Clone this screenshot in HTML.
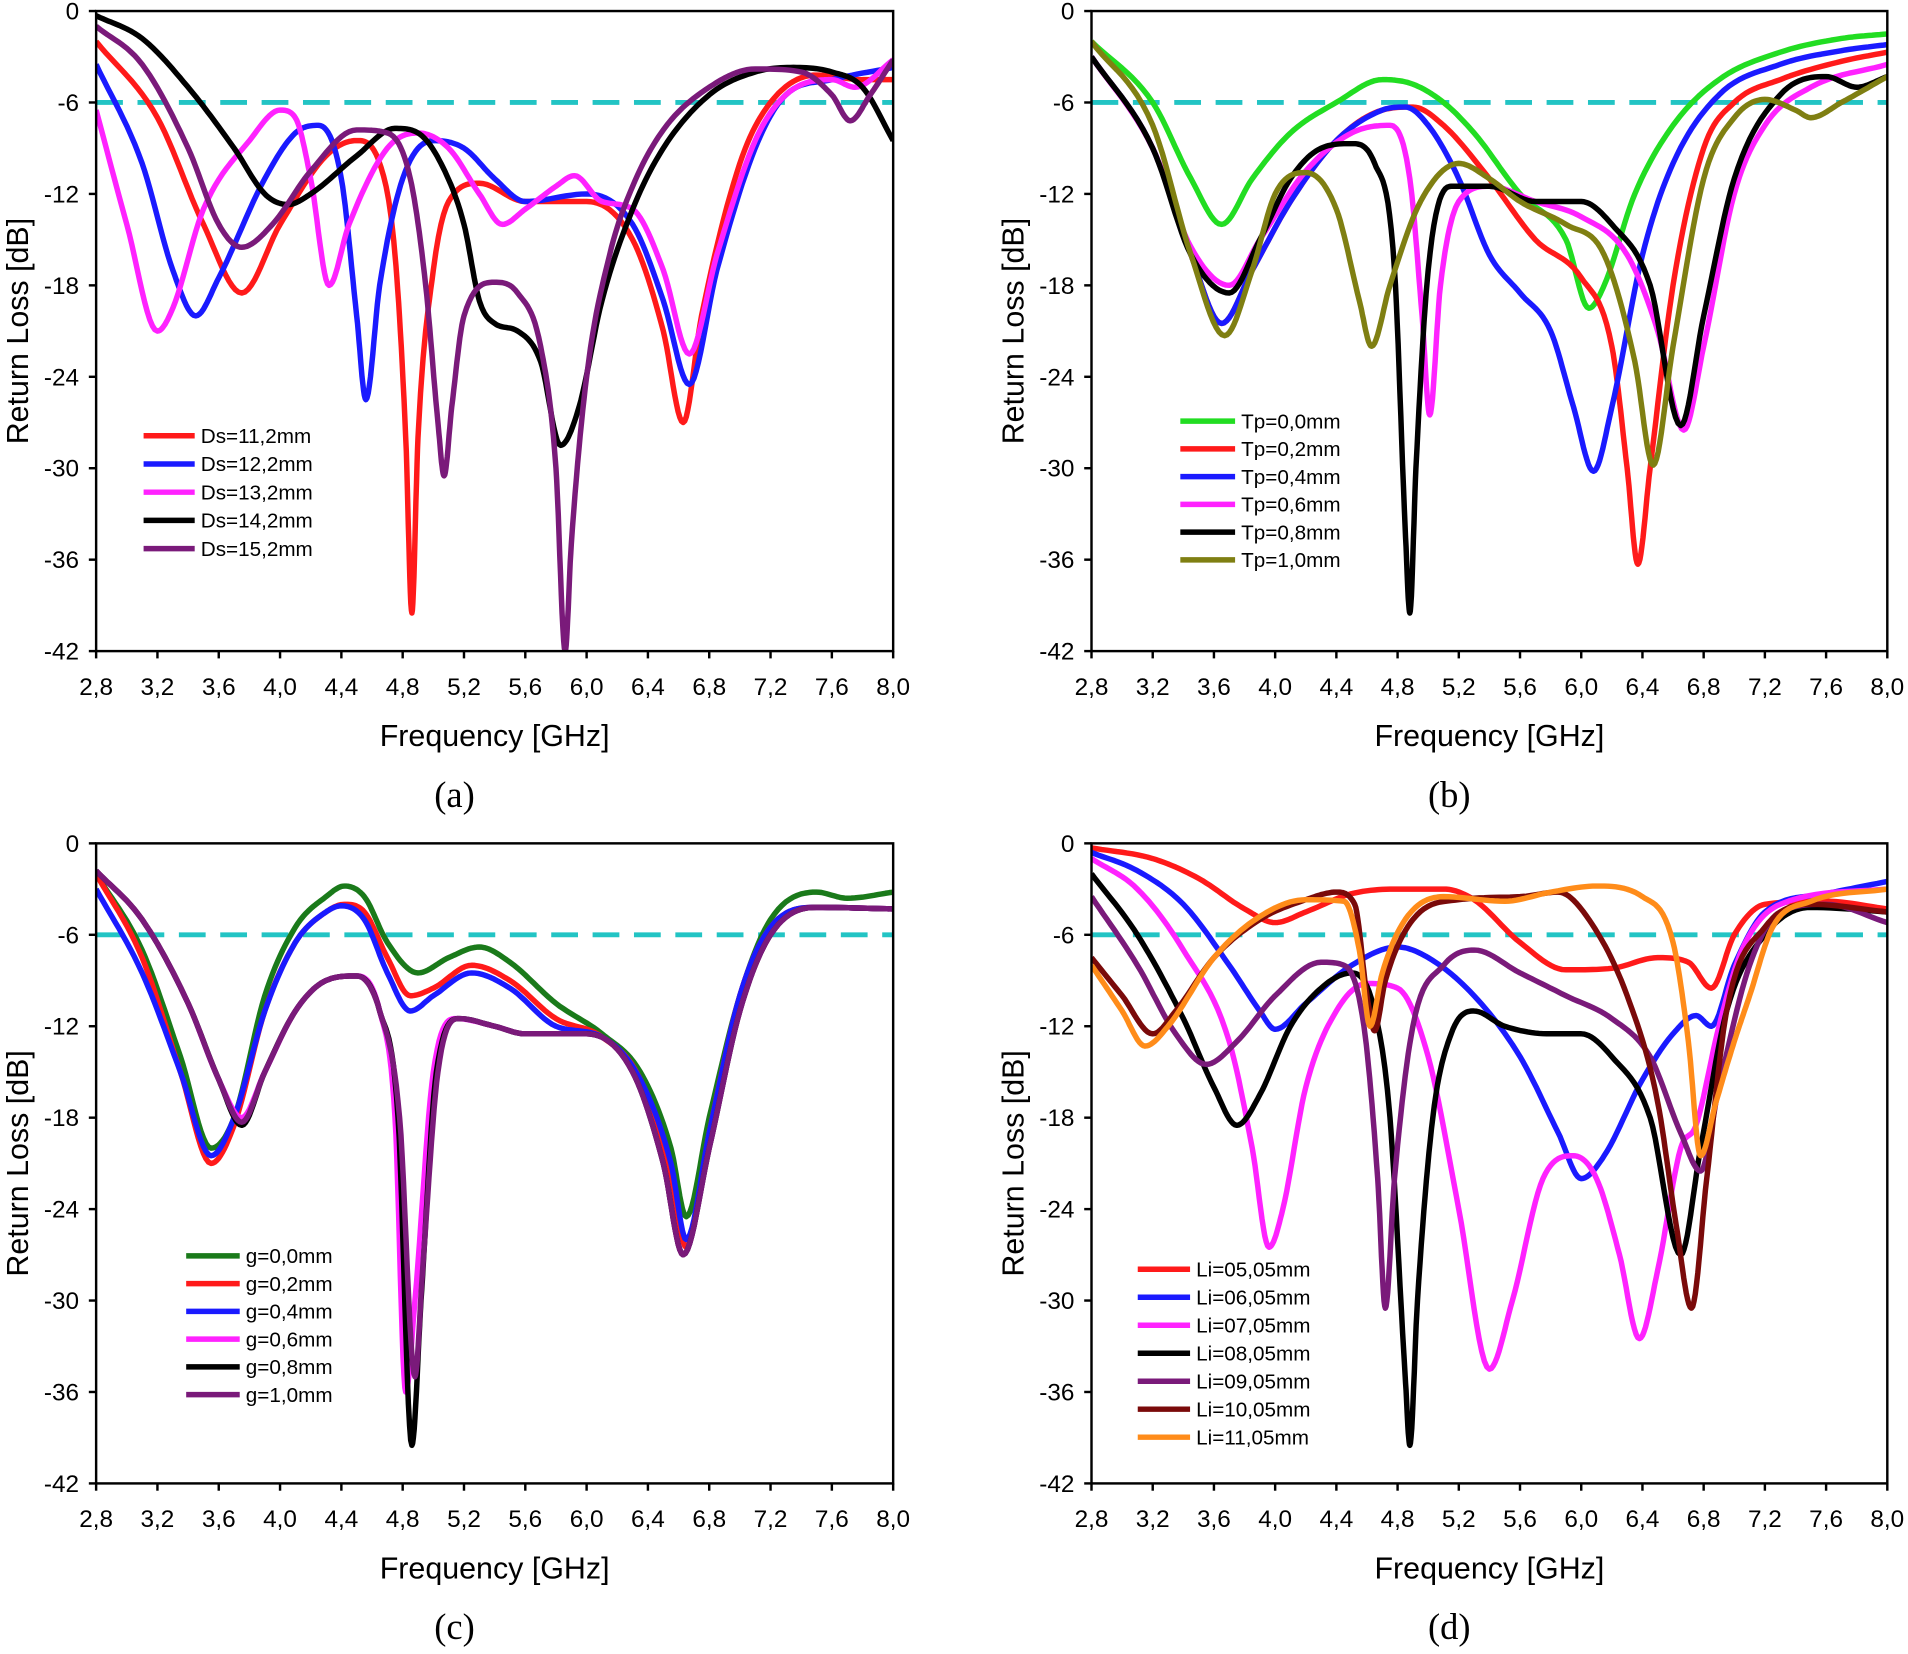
<!DOCTYPE html>
<html><head><meta charset="utf-8"><style>
html,body{margin:0;padding:0;background:#fff}
svg text{font-family:"Liberation Sans",Arial,sans-serif}
</style></head><body>
<svg id="fig" width="1908" height="1649" viewBox="0 0 1568 1355" xmlns="http://www.w3.org/2000/svg"></svg>
<script>
const xTicks=["2,8","3,2","3,6","4,0","4,4","4,8","5,2","5,6","6,0","6,4","6,8","7,2","7,6","8,0"];
const yTicks=["0","-6","-12","-18","-24","-30","-36","-42"];
// Panel (a)
const aNames=["Ds=11,2mm","Ds=12,2mm","Ds=13,2mm","Ds=14,2mm","Ds=15,2mm"];
const aColors=["#ff1a1a","#1a1aff","#ff22ff","#000000","#7a1a7a"];
const aDs11=[[2.8,-2],[3.2,-7],[3.5,-14],[3.75,-18.5],[4.0,-14],[4.3,-9.5],[4.5,-8.5],[4.65,-10],[4.75,-16],[4.82,-28],[4.86,-39.5],[4.9,-28],[5.0,-17],[5.1,-12.5],[5.3,-11.3],[5.6,-12.5],[6.0,-12.5],[6.3,-15],[6.5,-21],[6.63,-27],[6.75,-20],[7.0,-10],[7.2,-6],[7.5,-4.2],[7.8,-4.5],[8.0,-4.5]];
const aDs12=[[2.8,-3.5],[3.1,-10],[3.3,-17],[3.45,-20],[3.6,-17.5],[3.9,-11],[4.1,-8],[4.25,-7.5],[4.4,-11],[4.5,-20],[4.56,-25.5],[4.65,-18],[4.8,-11],[5.0,-8.5],[5.2,-9],[5.4,-11],[5.6,-12.5],[6.0,-12],[6.3,-14],[6.5,-19],[6.67,-24.5],[6.85,-17],[7.1,-9],[7.3,-5.5],[7.6,-4.5],[8.0,-3.7]];
const aDs13=[[2.8,-6.5],[3.0,-14],[3.2,-21],[3.3,-19.5],[3.5,-13],[3.8,-8.5],[4.0,-6.5],[4.1,-7],[4.2,-11],[4.32,-18],[4.45,-14],[4.7,-9],[4.9,-8],[5.1,-9],[5.3,-12],[5.45,-14],[5.6,-13],[5.8,-11.5],[5.92,-10.8],[6.1,-12.5],[6.3,-13],[6.5,-17],[6.67,-22.5],[6.85,-16],[7.1,-8.5],[7.3,-5.5],[7.6,-4.5],[7.75,-5],[8.0,-3.2]];
const aDs14=[[2.8,-0.3],[3.1,-1.8],[3.4,-5],[3.7,-9],[3.9,-12],[4.05,-12.7],[4.2,-12],[4.5,-9.5],[4.75,-7.7],[4.9,-8],[5.05,-10],[5.2,-14],[5.3,-19],[5.4,-20.5],[5.55,-21],[5.7,-23],[5.83,-28.5],[5.95,-26],[6.1,-19],[6.3,-13],[6.5,-9],[6.8,-5.5],[7.1,-4],[7.35,-3.7],[7.6,-4],[7.8,-5],[8.0,-8.5]];
const aDs15=[[2.8,-1],[3.1,-3.5],[3.4,-9],[3.6,-14],[3.75,-15.5],[3.95,-14],[4.2,-10.5],[4.5,-7.8],[4.7,-8],[4.85,-11],[4.95,-18],[5.03,-27],[5.07,-30.5],[5.12,-26],[5.2,-20],[5.4,-17.8],[5.55,-18.5],[5.7,-22],[5.8,-30],[5.86,-42],[5.9,-35],[6.0,-24],[6.15,-16],[6.3,-11.5],[6.5,-7.8],[6.8,-5],[7.1,-3.8],[7.4,-4],[7.6,-5.5],[7.72,-7.2],[7.85,-5.5],[8.0,-3.2]];
// Panel (b)
const bNames=["Tp=0,0mm","Tp=0,2mm","Tp=0,4mm","Tp=0,6mm","Tp=0,8mm","Tp=1,0mm"];
const bColors=["#22dd22","#ff1a1a","#1a1aff","#ff22ff","#000000","#7f7f12"];
const bTp0=[[2.8,-2],[3.2,-6],[3.45,-11],[3.65,-14],[3.85,-11],[4.1,-8],[4.4,-6],[4.7,-4.5],[4.9,-4.8],[5.1,-6],[5.3,-8],[5.6,-12],[5.9,-15],[6.05,-19.5],[6.15,-18],[6.35,-12],[6.6,-7.5],[6.9,-4.5],[7.3,-2.7],[7.7,-1.8],[8.0,-1.5]];
const bTp2=[[2.8,-3],[3.2,-9],[3.45,-16],[3.65,-20.5],[3.85,-17],[4.1,-12.5],[4.4,-8.5],[4.7,-6.5],[4.9,-6.3],[5.1,-7.5],[5.4,-11],[5.7,-15],[6.0,-17.5],[6.2,-22],[6.3,-30],[6.37,-36.3],[6.45,-30],[6.6,-18],[6.8,-9],[7.0,-6],[7.3,-4.5],[7.7,-3.3],[8.0,-2.7]];
const bTp4=[[2.8,-3],[3.2,-9],[3.45,-16],[3.65,-20.5],[3.85,-17],[4.1,-12.5],[4.4,-8.5],[4.7,-6.5],[4.85,-6.3],[5.0,-7.5],[5.2,-11],[5.4,-16],[5.6,-18.5],[5.8,-21],[5.95,-26],[6.08,-30.2],[6.2,-26],[6.4,-16],[6.6,-10],[6.9,-5.5],[7.3,-3.5],[7.7,-2.6],[8.0,-2.2]];
const bTp6=[[2.8,-3],[3.2,-9],[3.45,-15.5],[3.7,-18],[3.9,-15],[4.2,-10.5],[4.5,-8],[4.75,-7.5],[4.88,-11],[4.96,-20],[5.01,-26.5],[5.08,-18],[5.2,-12.5],[5.4,-11.5],[5.7,-12.5],[6.0,-13.5],[6.3,-16],[6.5,-21],[6.67,-27.5],[6.8,-22],[7.0,-12],[7.2,-7.5],[7.5,-5],[8.0,-3.5]];
const bTp8=[[2.8,-3],[3.2,-9],[3.45,-16],[3.7,-18.5],[3.9,-15],[4.1,-11],[4.3,-9],[4.5,-8.7],[4.65,-10],[4.78,-17],[4.85,-34],[4.88,-39.5],[4.92,-30],[5.0,-17],[5.15,-11.5],[5.4,-11.5],[5.7,-12.5],[6.0,-12.5],[6.2,-14],[6.45,-18],[6.65,-27.2],[6.8,-20],[7.0,-11],[7.3,-5.5],[7.6,-4.3],[7.8,-5],[8.0,-4.3]];
const bTp10=[[2.8,-2],[3.2,-7.5],[3.45,-16],[3.67,-21.3],[3.85,-17],[4.0,-12],[4.2,-10.6],[4.4,-13],[4.55,-19],[4.63,-22],[4.75,-18],[4.95,-12.5],[5.2,-10],[5.4,-11],[5.6,-12.5],[5.9,-14],[6.15,-16],[6.35,-23],[6.47,-29.8],[6.6,-22],[6.8,-11],[7.0,-7],[7.2,-5.8],[7.4,-6.5],[7.5,-7],[7.7,-6],[8.0,-4.3]];
// Panel (c)
const cNames=["g=0,0mm","g=0,2mm","g=0,4mm","g=0,6mm","g=0,8mm","g=1,0mm"];
const cColors=["#1a7a1a","#ff1a1a","#1a1aff","#ff22ff","#000000","#7a1a7a"];
const cG0=[[2.8,-2],[3.1,-7],[3.35,-14],[3.55,-20],[3.7,-18],[3.9,-10],[4.1,-5.5],[4.3,-3.5],[4.42,-2.8],[4.55,-3.5],[4.7,-6.5],[4.9,-8.5],[5.1,-7.5],[5.3,-6.8],[5.5,-7.8],[5.8,-10.5],[6.1,-12.5],[6.35,-15],[6.55,-20],[6.65,-24.5],[6.8,-18],[7.0,-10],[7.2,-5],[7.5,-3.2],[7.7,-3.6],[8.0,-3.2]];
const cG2=[[2.8,-2],[3.1,-7.5],[3.35,-15],[3.55,-21],[3.7,-18.5],[3.9,-11],[4.1,-6.5],[4.3,-4.5],[4.42,-4],[4.55,-4.5],[4.7,-7.5],[4.85,-10],[5.0,-9.5],[5.25,-8],[5.5,-9],[5.8,-11.5],[6.1,-12.7],[6.35,-15.5],[6.55,-22],[6.65,-26.5],[6.8,-19],[7.0,-10],[7.2,-5.5],[7.5,-4.2],[8.0,-4.3]];
const cG4=[[2.8,-3],[3.1,-8.5],[3.35,-15],[3.55,-20.5],[3.7,-18],[3.9,-11],[4.1,-6.5],[4.3,-4.5],[4.4,-4.1],[4.55,-5],[4.7,-8.5],[4.85,-11],[5.0,-10],[5.25,-8.5],[5.5,-9.5],[5.8,-12],[6.1,-12.7],[6.35,-15.5],[6.55,-21],[6.65,-26],[6.8,-19],[7.0,-10],[7.2,-5.5],[7.5,-4.2],[8.0,-4.3]];
const cG6=[[2.8,-1.8],[3.1,-5],[3.4,-10.5],[3.6,-15.5],[3.75,-18],[3.9,-15],[4.1,-11],[4.3,-9],[4.5,-8.7],[4.65,-11],[4.75,-18],[4.82,-36],[4.88,-30],[5.0,-15],[5.15,-11.5],[5.4,-12],[5.6,-12.5],[6.0,-12.5],[6.3,-15],[6.5,-21],[6.63,-27],[6.8,-20],[7.0,-11],[7.2,-6],[7.5,-4.2],[8.0,-4.3]];
const cG8=[[2.8,-1.8],[3.1,-5],[3.4,-10.5],[3.6,-15.5],[3.75,-18.5],[3.9,-15],[4.1,-11],[4.3,-9],[4.5,-8.7],[4.65,-11],[4.77,-18],[4.86,-39.5],[4.92,-30],[5.02,-15],[5.17,-11.5],[5.4,-12],[5.6,-12.5],[6.0,-12.5],[6.3,-15],[6.5,-21],[6.63,-27],[6.8,-20],[7.0,-11],[7.2,-6],[7.5,-4.2],[8.0,-4.3]];
const cG10=[[2.8,-1.8],[3.1,-5],[3.4,-10.5],[3.6,-15.5],[3.75,-18.3],[3.9,-15],[4.1,-11],[4.3,-9],[4.5,-8.7],[4.65,-11],[4.78,-18],[4.88,-35],[4.93,-28],[5.03,-15],[5.17,-11.5],[5.4,-12],[5.6,-12.5],[6.0,-12.5],[6.3,-15],[6.5,-21],[6.63,-27],[6.8,-20],[7.0,-11],[7.2,-6],[7.5,-4.2],[8.0,-4.3]];
// Panel (d)
const dNames=["Li=05,05mm","Li=06,05mm","Li=07,05mm","Li=08,05mm","Li=09,05mm","Li=10,05mm","Li=11,05mm"];
const dColors=["#ff1a1a","#1a1aff","#ff22ff","#000000","#7a1a7a","#7a0a0a","#ff8c1a"];
const dL5=[[2.8,-0.3],[3.2,-1],[3.5,-2.3],[3.8,-4.3],[4.0,-5.2],[4.2,-4.5],[4.5,-3.3],[4.8,-3],[5.1,-3],[5.3,-3.7],[5.6,-6.5],[5.9,-8.3],[6.2,-8.2],[6.5,-7.5],[6.7,-7.8],[6.85,-9.5],[7.0,-6],[7.2,-4],[7.6,-3.8],[8.0,-4.3]];
const dL6=[[2.8,-0.6],[3.1,-1.8],[3.4,-4],[3.7,-8],[3.9,-11],[4.0,-12.2],[4.2,-10.5],[4.5,-8],[4.8,-6.8],[5.0,-7.5],[5.3,-10],[5.6,-14],[5.85,-19],[6.0,-22],[6.15,-20.5],[6.4,-15.5],[6.6,-12.5],[6.75,-11.3],[6.85,-12],[7.0,-8],[7.2,-4.5],[7.6,-3.3],[8.0,-2.5]];
const dL7=[[2.8,-1],[3.1,-3],[3.4,-7],[3.7,-13],[3.85,-20],[3.96,-26.5],[4.05,-24],[4.2,-16],[4.4,-11],[4.6,-9.2],[4.8,-9.5],[5.0,-14],[5.2,-24],[5.4,-34.5],[5.55,-30],[5.75,-22],[5.95,-20.5],[6.1,-22],[6.25,-27],[6.38,-32.5],[6.5,-28],[6.65,-20],[6.75,-18.5],[6.9,-12],[7.05,-7],[7.3,-4],[8.0,-3]];
const dL8=[[2.8,-2],[3.1,-6],[3.4,-11.5],[3.6,-16],[3.75,-18.5],[3.9,-16.5],[4.1,-12],[4.3,-9.5],[4.5,-8.5],[4.65,-11],[4.75,-18],[4.85,-35],[4.88,-39.5],[4.93,-30],[5.03,-18],[5.15,-12.5],[5.3,-11],[5.5,-12],[5.8,-12.5],[6.0,-12.5],[6.2,-14],[6.45,-18],[6.65,-27],[6.78,-20],[6.95,-11],[7.2,-6],[7.5,-4.2],[8.0,-4.5]];
const dL9=[[2.8,-3.5],[3.1,-8],[3.35,-12.5],[3.55,-14.5],[3.75,-13],[4.0,-10],[4.3,-7.8],[4.45,-8],[4.58,-12],[4.67,-22],[4.72,-30.5],[4.78,-22],[4.9,-12],[5.1,-8],[5.3,-7],[5.6,-8.5],[5.9,-10],[6.2,-11.5],[6.45,-14],[6.65,-19],[6.78,-21.5],[6.9,-16],[7.1,-8],[7.3,-4.5],[7.6,-4],[8.0,-5.2]];
const dL10=[[2.8,-7.5],[3.0,-10],[3.2,-12.5],[3.35,-11],[3.6,-7.5],[3.9,-5],[4.2,-3.7],[4.4,-3.2],[4.52,-4],[4.6,-10],[4.65,-12.3],[4.72,-9],[4.9,-5],[5.2,-3.7],[5.6,-3.5],[5.85,-3.2],[6.05,-5],[6.3,-10],[6.5,-17],[6.62,-25],[6.72,-30.5],[6.82,-22],[6.95,-11],[7.2,-5.5],[7.5,-4],[8.0,-4.5]];
const dL11=[[2.8,-8],[3.0,-11],[3.15,-13.3],[3.3,-12],[3.6,-7.5],[3.9,-4.8],[4.2,-3.7],[4.45,-3.8],[4.55,-7],[4.62,-12],[4.7,-8.5],[4.85,-5],[5.1,-3.5],[5.5,-3.8],[5.8,-3.2],[6.1,-2.8],[6.4,-3.5],[6.6,-6.5],[6.7,-13],[6.78,-20.5],[6.88,-17],[7.0,-13],[7.1,-10],[7.25,-5.5],[7.5,-3.8],[8.0,-3]];

const NS="http://www.w3.org/2000/svg";
const svg=document.getElementById('fig');
function mk(tag,attrs,parent){const e=document.createElementNS(NS,tag);for(const k in attrs)e.setAttribute(k,attrs[k]);(parent||svg).appendChild(e);return e;}
function mono(pts){
  const n=pts.length,xs=pts.map(p=>p[0]),ys=pts.map(p=>p[1]);
  const d=[],m=new Array(n);
  for(let i=0;i<n-1;i++)d.push((ys[i+1]-ys[i])/(xs[i+1]-xs[i]));
  m[0]=d[0];m[n-1]=d[n-2];
  for(let i=1;i<n-1;i++)m[i]=(d[i-1]*d[i]<=0)?0:(d[i-1]+d[i])/2;
  for(let i=0;i<n-1;i++){if(d[i]===0){m[i]=0;m[i+1]=0;continue;}const a=m[i]/d[i],b=m[i+1]/d[i],s=a*a+b*b;if(s>9){const t=3/Math.sqrt(s);m[i]=t*a*d[i];m[i+1]=t*b*d[i];}}
  const out=[];
  for(let i=0;i<n-1;i++){const h=xs[i+1]-xs[i];for(let k=0;k<12;k++){const t=k/12,t2=t*t,t3=t2*t;
    const y=(2*t3-3*t2+1)*ys[i]+(t3-2*t2+t)*h*m[i]+(-2*t3+3*t2)*ys[i+1]+(t3-t2)*h*m[i+1];out.push([xs[i]+t*h,y]);}}
  out.push([xs[n-1],ys[n-1]]);return out;
}
function panel(id,x0,x1,y0,y1,names,colors,series,leg,label){
  const g=mk('g',{});
  
  
  const X=v=>x0+(v-2.8)/(8.0-2.8)*(x1-x0);
  const Y=v=>y0+(-v)/42*(y1-y0);
  const clip=mk('clipPath',{id:'clip'+id},g);mk('rect',{x:x0,y:y0-3,width:x1-x0,height:y1-y0+3},clip);
  const ref=mk('line',{x1:x0,x2:x1,y1:Y(-6),y2:Y(-6),stroke:'#22c4c4','stroke-width':4,'stroke-dasharray':'22 12'},g);
  
  
  const sg=mk('g',{'clip-path':'url(#clip'+id+')'},g);
  series.forEach((s,i)=>{
    const p=mono(s).map(q=>X(q[0]).toFixed(1)+','+Y(Math.max(-42.5,Math.min(0.5,q[1]))).toFixed(1)).join(' ');
    const pl=mk('polyline',{points:p,fill:'none',stroke:colors[i],'stroke-width':4.5,'stroke-linejoin':'round'},sg);
    
    
  });
  mk('rect',{x:x0,y:y0,width:x1-x0,height:y1-y0,fill:'none',stroke:'#000','stroke-width':2},g);
  xTicks.forEach((t,i)=>{const v=2.8+i*0.4,x=X(v);
    mk('line',{x1:x,x2:x,y1:y1,y2:y1+6,stroke:'#000','stroke-width':2},g);
    const tx=mk('text',{x:x,y:y1+36,'font-size':20,'text-anchor':'middle'},g);tx.textContent=t;
    
    });
  yTicks.forEach((t,i)=>{const y=Y(-6*i);
    mk('line',{x1:x0-6,x2:x0,y1:y,y2:y,stroke:'#000','stroke-width':2},g);
    const tx=mk('text',{x:x0-14,y:y+7,'font-size':20,'text-anchor':'end'},g);tx.textContent=t;
    
    });
  const xt=mk('text',{x:(x0+x1)/2,y:y1+78,'font-size':25,'text-anchor':'middle'},g);xt.textContent='Frequency [GHz]';
  
  
  const yt=mk('text',{x:0,y:0,'font-size':25,'text-anchor':'middle',transform:`translate(${x0-56},${(y0+y1)/2}) rotate(-90)`},g);yt.textContent='Return Loss [dB]';
  
  
  const pl=mk('text',{x:(x0+x1)/2-33,y:y1+128,'font-size':30,'text-anchor':'middle',style:'font-family:"Liberation Serif",serif'},g);pl.textContent=label;
  
  
  names.forEach((n,i)=>{const y=leg[2]+i*leg[3];
    const le=mk('g',{},g);
    
    
    mk('line',{x1:leg[0],x2:leg[1],y1:y,y2:y,stroke:colors[i],'stroke-width':4.5},le);
    const t=mk('text',{x:leg[1]+5,y:y+6,'font-size':17},le);t.textContent=n;});
}
panel('a',79,734,9,535,aNames,aColors,[aDs11,aDs12,aDs13,aDs14,aDs15],[118,160,358,23.2],'(a)');
panel('b',897,1551,9,535,bNames,bColors,[bTp0,bTp2,bTp4,bTp6,bTp8,bTp10],[970,1015,346,22.8],'(b)');
panel('c',79,734,693,1219,cNames,cColors,[cG0,cG2,cG4,cG6,cG8,cG10],[153,197,1032,22.8],'(c)');
panel('d',897,1551,693,1219,dNames,dColors,[dL5,dL6,dL7,dL8,dL9,dL10,dL11],[935,978,1043,23],'(d)');
</script>
</body></html>
